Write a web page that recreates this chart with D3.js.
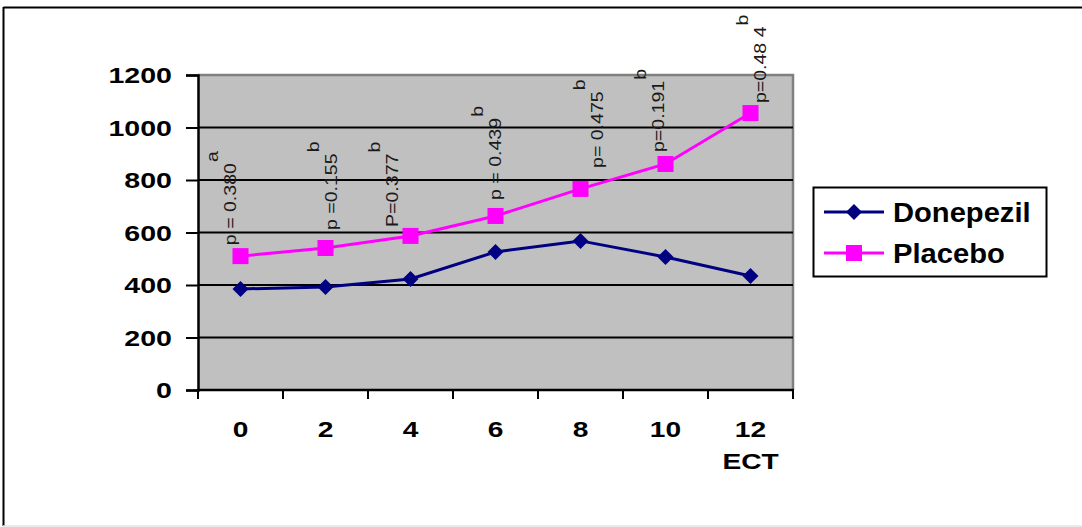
<!DOCTYPE html>
<html>
<head>
<meta charset="utf-8">
<script src="https://cdn.jsdelivr.net/npm/d3@7"></script>
<style>
html,body{margin:0;padding:0;background:#fff;}
svg{display:block;}
text{font-family:"Liberation Sans",Arial,sans-serif;}
</style>
</head>
<body>
<svg id="chart" width="1082" height="527"></svg>
<script>
// ---- data ----
const categories = ["0", "2", "4", "6", "8", "10", "12"];
const seriesNames = ["Donepezil", "Placebo"];
const donepezil = [385, 392, 423, 526, 568, 507, 434];
const placebo = [510, 541, 587, 663, 766, 861, 1055];
const yTicks = [0, 200, 400, 600, 800, 1000, 1200];
const pLabels = ["p = 0.380", "p =0.155", "P=0.377", "p = 0.439", "p= 0.475", "p=0.191", "p=0.48 4"];
const pSup = ["a", "b", "b", "b", "b", "b", "b"];
const xTitle = "ECT";

// ---- layout ----
const W = 1082, H = 527;
const plot = {left: 198, right: 793, top: 75, bottom: 390};
const labelNudge = [[-5, -11], [11, -18], [-13, -9], [5, -16], [22, -21], [-2, -12], [15, -10]];
const colors = {Donepezil: "#000080", Placebo: "#ff00ff"};

const svg = d3.select("#chart");

// outer frame
svg.append("line").attr("x1", 3.5).attr("x2", W).attr("y1", 7.5).attr("y2", 7.5)
  .attr("stroke", "#000").attr("stroke-width", 2.2);
svg.append("line").attr("x1", 3.5).attr("x2", 3.5).attr("y1", 7).attr("y2", 526)
  .attr("stroke", "#000").attr("stroke-width", 2);
svg.append("line").attr("x1", 3).attr("x2", W).attr("y1", 526).attr("y2", 526)
  .attr("stroke", "#e4e4e4").attr("stroke-width", 1.5);

const x = d3.scaleBand().domain(categories).range([plot.left, plot.right]).padding(0);
const y = d3.scaleLinear().domain([0, 1200]).range([plot.bottom, plot.top]);
const cx = c => x(c) + x.bandwidth() / 2;

// plot background
svg.append("rect").attr("x", plot.left).attr("y", plot.top)
  .attr("width", plot.right - plot.left).attr("height", plot.bottom - plot.top)
  .attr("fill", "#c0c0c0");
// grey top/right border
svg.append("path")
  .attr("d", `M${plot.left},${plot.top}H${plot.right}V${plot.bottom}`)
  .attr("fill", "none").attr("stroke", "#808080").attr("stroke-width", 2.5);

// gridlines
svg.append("g").selectAll("line").data(yTicks.filter(t => t > 0 && t < 1200)).join("line")
  .attr("x1", plot.left).attr("x2", plot.right)
  .attr("y1", d => y(d)).attr("y2", d => y(d))
  .attr("stroke", "#000").attr("stroke-width", 2);

// y axis
const yAxis = d3.axisLeft(y).tickValues(yTicks).tickSize(12).tickFormat(d3.format("d"));
const gy = svg.append("g").attr("transform", `translate(${plot.left},0)`).call(yAxis);
gy.select(".domain").attr("stroke", "#000").attr("stroke-width", 2.5);
gy.selectAll(".tick line").attr("stroke", "#000").attr("stroke-width", 2);
gy.selectAll(".tick text")
  .attr("x", null).attr("dy", null)
  .attr("font-size", 22.5).attr("font-weight", "bold").attr("fill", "#000")
  .attr("text-anchor", "end").attr("dominant-baseline", "central")
  .attr("transform", "translate(-26,0) scale(1.27,1)");

// x axis: ticks at category boundaries
const bounds = categories.map(c => x(c)).concat([plot.right]);
const gx = svg.append("g");
gx.append("line").attr("x1", plot.left - 1).attr("x2", plot.right + 1)
  .attr("y1", plot.bottom).attr("y2", plot.bottom)
  .attr("stroke", "#000").attr("stroke-width", 2.5);
gx.selectAll("line.tk").data(bounds).join("line").attr("class", "tk")
  .attr("x1", d => d).attr("x2", d => d).attr("y1", plot.bottom).attr("y2", plot.bottom + 9)
  .attr("stroke", "#000").attr("stroke-width", 2);
gx.selectAll("text.cat").data(categories).join("text").attr("class", "cat")
  .attr("transform", d => `translate(${cx(d)},437) scale(1.25,1)`)
  .attr("text-anchor", "middle").attr("font-size", 22.5).attr("font-weight", "bold")
  .text(d => d);
gx.append("text")
  .attr("transform", `translate(${cx(categories[categories.length - 1])},469) scale(1.25,1)`)
  .attr("text-anchor", "middle").attr("font-size", 22.5).attr("font-weight", "bold")
  .text(xTitle);

// series
const series = [
  {name: seriesNames[0], values: donepezil, symbol: d3.symbolSquare, size: 128, rot: 45},
  {name: seriesNames[1], values: placebo, symbol: d3.symbolSquare, size: 256, rot: 0}
];
const line = d3.line().x((d, i) => cx(categories[i])).y(d => y(d));
series.forEach(s => {
  svg.append("path").datum(s.values).attr("d", line)
    .attr("fill", "none").attr("stroke", colors[s.name]).attr("stroke-width", 3);
  svg.append("g").selectAll("path").data(s.values).join("path")
    .attr("d", d3.symbol().type(s.symbol).size(s.size))
    .attr("transform", (d, i) => `translate(${cx(categories[i])},${y(d)}) rotate(${s.rot})`)
    .attr("fill", colors[s.name]);
});

// p-value annotations (rotated)
pLabels.forEach((lab, i) => {
  const bx = cx(categories[i]) + labelNudge[i][0];
  const sy = y(placebo[i]) + labelNudge[i][1];
  const g = svg.append("g").attr("transform", `translate(${bx},${sy}) rotate(-90) scale(1.15,1)`);
  const t = g.append("text").attr("x", 0).attr("y", 0)
    .attr("font-size", 17).attr("fill", "#1a1a1a").text(lab);
  const len = t.node().getComputedTextLength();
  g.append("text").attr("x", len + 1).attr("y", -18)
    .attr("font-size", 17).attr("fill", "#1a1a1a").text(pSup[i]);
});

// legend
const lg = svg.append("g");
lg.append("rect").attr("x", 813.5).attr("y", 187.5).attr("width", 233).attr("height", 89)
  .attr("fill", "#fff").attr("stroke", "#000").attr("stroke-width", 2);
series.forEach((s, i) => {
  const ly = 212 + i * 41;
  lg.append("line").attr("x1", 824).attr("x2", 884).attr("y1", ly).attr("y2", ly)
    .attr("stroke", colors[s.name]).attr("stroke-width", 3);
  lg.append("path").attr("d", d3.symbol().type(s.symbol).size(s.size))
    .attr("transform", `translate(854,${ly}) rotate(${s.rot})`).attr("fill", colors[s.name]);
  lg.append("text").attr("transform", `translate(893,${ly + 10}) scale(1.06,1)`)
    .attr("font-size", 27.5).attr("font-weight", "bold").attr("fill", "#000").text(s.name);
});
</script>
</body>
</html>
